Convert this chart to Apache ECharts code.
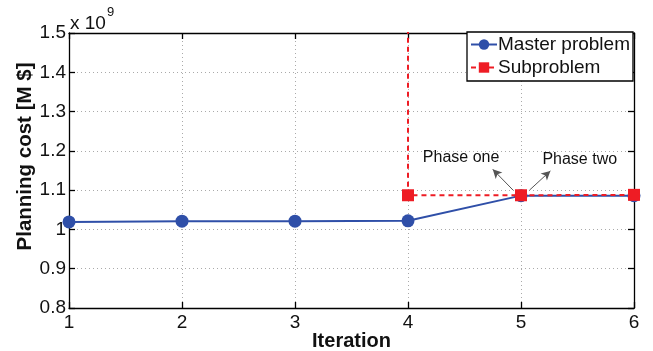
<!DOCTYPE html>
<html>
<head>
<meta charset="utf-8">
<script src="https://cdn.jsdelivr.net/npm/echarts@6/dist/echarts.min.js"></script>
<style>
html,body{margin:0;padding:0;background:#fff;}
#chart{width:653px;height:351px;}
</style>
</head>
<body>
<div id="chart"></div>
<script>
// Data (values in $ ; axis shows ×10^9)
var iterations = [1, 2, 3, 4, 5, 6];
var masterValues = [1.019e9, 1.021e9, 1.021e9, 1.022e9, 1.086e9, 1.086e9];
// Subproblem: vertical segment at iteration 4 comes from above the plot (off scale)
var subIterations = [4, 4, 5, 6];
var subValues = [3.0e9, 1.087e9, 1.087e9, 1.088e9];
var annotationTexts = ['Phase one', 'Phase two'];

var FONT = 'Liberation Sans, Arial, sans-serif';
var chart = echarts.init(document.getElementById('chart'), null, {renderer: 'canvas'});

function fmtY(v) {
  var s = (v / 1e9).toFixed(1);
  if (s.slice(-2) === '.0') s = s.slice(0, -2);
  return s;
}

var masterData = iterations.map(function (x, i) { return [x, masterValues[i]]; });
var subData = subIterations.map(function (x, i) {
  var d = {value: [x, subValues[i]]};
  if (i === 0) d.symbol = 'none';
  return d;
});

var axisLineStyle = {color: '#000', width: 1.3};
var option = {
  animation: false,
  backgroundColor: '#fff',
  grid: {left: 69, right: 19, top: 33, bottom: 43, containLabel: false, outerBoundsMode: 'none'},
  xAxis: [{
    type: 'value', min: 1, max: 6, interval: 1,
    name: 'Iteration', nameLocation: 'middle', nameGap: 23, nameMoveOverlap: false,
    nameTextStyle: {fontFamily: FONT, fontWeight: 'bold', fontSize: 20, color: '#111'},
    axisLine: {show: true, onZero: false, lineStyle: axisLineStyle},
    axisTick: {show: true, inside: true, length: 6, lineStyle: axisLineStyle},
    axisLabel: {fontFamily: FONT, fontSize: 19, color: '#111', margin: 5},
    splitLine: {show: true, lineStyle: {color: '#aaa', type: [1, 3], width: 1}}
  }, {
    type: 'value', min: 1, max: 6, interval: 1, position: 'top',
    axisLine: {show: true, onZero: false, lineStyle: axisLineStyle},
    axisTick: {show: true, inside: true, length: 6, lineStyle: axisLineStyle},
    axisLabel: {show: false}, splitLine: {show: false}
  }],
  yAxis: [{
    type: 'value', min: 0.8e9, max: 1.5e9, interval: 0.1e9,
    name: 'Planning cost [M $]', nameLocation: 'middle', nameGap: 33, nameRotate: 90, nameMoveOverlap: false,
    nameTextStyle: {fontFamily: FONT, fontWeight: 'bold', fontSize: 20.5, color: '#111', padding: [0, 0, 0, 28]},
    axisLine: {show: true, onZero: false, lineStyle: axisLineStyle},
    axisTick: {show: true, inside: true, length: 6, lineStyle: axisLineStyle},
    axisLabel: {fontFamily: FONT, fontSize: 19, color: '#111', margin: 3, formatter: fmtY},
    splitLine: {show: true, lineStyle: {color: '#aaa', type: [1, 3], width: 1}}
  }, {
    type: 'value', min: 0.8e9, max: 1.5e9, interval: 0.1e9, position: 'right',
    axisLine: {show: true, onZero: false, lineStyle: axisLineStyle},
    axisTick: {show: true, inside: true, length: 6, lineStyle: axisLineStyle},
    axisLabel: {show: false}, splitLine: {show: false}
  }],
  legend: {
    left: 467, top: 32, orient: 'vertical',
    backgroundColor: '#fff', borderColor: '#000', borderWidth: 1.3, borderRadius: 0,
    padding: [3, 3, 4, 3], itemGap: 4, itemWidth: 26, itemHeight: 13,
    textStyle: {fontFamily: FONT, fontSize: 19, color: '#111', padding: [0, 0, 0, -4]},
    data: ['Master problem', 'Subproblem']
  },
  graphic: [{
    type: 'text', left: 70, top: 6,
    style: {
      text: '{a|x 10}{b|9}', fontFamily: FONT,
      rich: {
        a: {fontSize: 19, fontFamily: FONT, fill: '#111', padding: [8, 0, 0, 0]},
        b: {fontSize: 13, fontFamily: FONT, fill: '#111', verticalAlign: 'top', padding: [0, 0, 8, 1]}
      }
    }
  }],
  series: [{
    name: 'Master problem', type: 'line', xAxisIndex: 0, yAxisIndex: 0,
    data: masterData, symbol: 'circle', symbolSize: 13,
    itemStyle: {color: '#2f4fa8'},
    lineStyle: {color: '#2f4fa8', width: 2},
    z: 3
  }, {
    name: 'Subproblem', type: 'line', xAxisIndex: 0, yAxisIndex: 0,
    data: subData, symbol: 'rect', symbolSize: 12, clip: true,
    itemStyle: {color: '#ee1c24'},
    lineStyle: {color: '#ee1c24', width: 2, type: [5, 4]},
    z: 4,
    markPoint: {
      symbol: 'circle', symbolSize: 1, silent: true,
      itemStyle: {color: 'rgba(0,0,0,0)'},
      label: {show: true, fontFamily: FONT, fontSize: 16, color: '#111', position: 'inside'},
      data: [
        {coord: [4.47, 1.183e9], name: annotationTexts[0], label: {formatter: annotationTexts[0]}},
        {coord: [5.52, 1.178e9], name: annotationTexts[1], label: {formatter: annotationTexts[1]}}
      ]
    },
    markLine: {
      silent: true, symbol: ['none', 'arrow'], symbolSize: [7, 9],
      lineStyle: {color: '#555', width: 1, type: 'solid'},
      label: {show: false},
      data: [
        [{coord: [4.93, 1.100e9]}, {coord: [4.75, 1.153e9]}],
        [{coord: [5.075, 1.100e9]}, {coord: [5.26, 1.149e9]}]
      ]
    }
  }]
};
chart.setOption(option);
</script>
</body>
</html>
